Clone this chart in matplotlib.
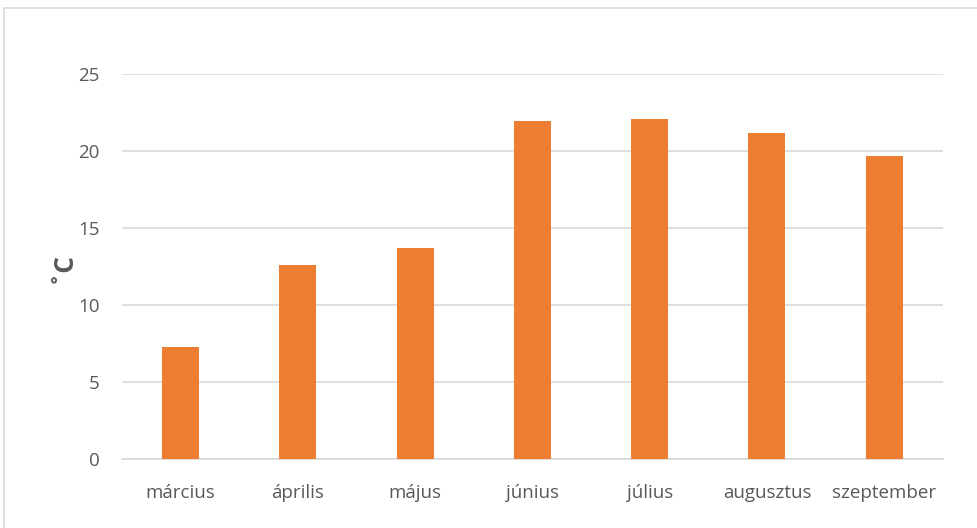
import matplotlib.pyplot as plt
from matplotlib.patches import Rectangle

months = ['március', 'április', 'május', 'június', 'július', 'augusztus', 'szeptember']
temps = [7.25, 12.6, 13.7, 21.95, 22.1, 21.15, 19.7]
yticks = [0, 5, 10, 15, 20, 25]

plt.rcParams['font.family'] = ['Open Sans', 'DejaVu Sans']

fig = plt.figure(figsize=(9.78, 5.28), dpi=100)
ax = fig.add_axes([0.1247, 0.1307, 0.8393, 0.7291])

# chart border like the office export
fig.patches.append(Rectangle((4 / 978, -0.01), 1.0, 1 - 8 / 528 + 0.01,
                             transform=fig.transFigure, fill=False,
                             edgecolor='#d9d9d9', linewidth=1.2))

ax.bar(range(len(months)), temps, width=0.315, color='#ED7D31', zorder=3)

ax.set_xlim(-0.5, len(months) - 0.5)
ax.set_ylim(0, 25)
ax.set_yticks(yticks)
ax.set_xticks(range(len(months)))
ax.set_xticklabels(months)
ax.grid(axis='y', color='#d9d9d9', linewidth=1.2, zorder=0)
for s in ['top', 'right', 'left']:
    ax.spines[s].set_visible(False)
ax.spines['bottom'].set_color('#d9d9d9')
ax.spines['bottom'].set_linewidth(1.2)
ax.tick_params(axis='both', length=0, labelsize=13.5, colors='#595959')
ax.tick_params(axis='y', pad=16)
ax.tick_params(axis='x', pad=18)
ax.set_ylabel('˚C', fontsize=19, fontweight='bold', color='#595959')
ax.yaxis.set_label_coords(-0.056, 0.5)

fig.savefig('out.png', dpi=100)
